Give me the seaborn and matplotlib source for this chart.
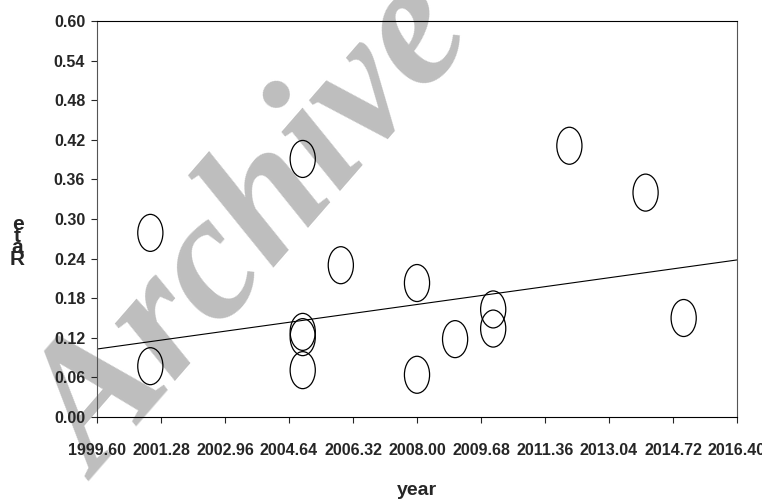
import numpy as np
import pandas as pd
import seaborn as sns
import matplotlib.pyplot as plt
from matplotlib.markers import MarkerStyle
from matplotlib.transforms import Affine2D

# data
year = [2001, 2001, 2005, 2005, 2005, 2005, 2006, 2008, 2008, 2009, 2010, 2010, 2012, 2014, 2015]
rate = [0.279, 0.077, 0.391, 0.129, 0.121, 0.071, 0.230, 0.203, 0.064, 0.118, 0.163, 0.134, 0.411, 0.340, 0.150]

# fitted line (end points)
fit_year = [1999.60, 2016.40]
fit_rate = [0.103, 0.238]

x_ticks = [1999.60, 2001.28, 2002.96, 2004.64, 2006.32, 2008.00, 2009.68, 2011.36, 2013.04, 2014.72, 2016.40]
y_ticks = [0.00, 0.06, 0.12, 0.18, 0.24, 0.30, 0.36, 0.42, 0.48, 0.54, 0.60]

sns.set_style("ticks")
plt.rcParams["font.family"] = ["Liberation Sans", "DejaVu Sans"]

df = pd.DataFrame({"year": year, "rate": rate})
fit = pd.DataFrame({"year": fit_year, "rate": fit_rate})

fig = plt.figure(figsize=(7.62, 4.99), dpi=100)
fig.patch.set_facecolor("white")
ax = fig.add_axes([0.1273, 0.1643, 0.8399, 0.7936])
ax.set_facecolor("none")

# watermark behind everything
fig.text(0.128, 0.036, "Archive of SID", rotation=49, rotation_mode="anchor",
         ha="left", va="baseline", fontsize=130, color="#bebebe",
         family=["Liberation Serif", "DejaVu Serif"], fontweight="bold",
         fontstyle="italic", zorder=-5)

sns.lineplot(data=fit, x="year", y="rate", ax=ax, color="black", linewidth=0.8)

ell = MarkerStyle("o", transform=Affine2D().scale(0.68, 1.0))
sns.scatterplot(data=df, x="year", y="rate", ax=ax, marker=ell, s=710,
                facecolor="none", edgecolor="black", linewidth=0.9, zorder=3)

ax.set_xlim(1999.60, 2016.40)
ax.set_ylim(0, 0.60)
ax.set_xticks(x_ticks)
ax.set_xticklabels([f"{v:.2f}" for v in x_ticks])
ax.set_yticks(y_ticks)
ax.set_yticklabels([f"{v:.2f}" for v in y_ticks])
ax.tick_params(axis="x", length=4.5, width=0.8, pad=14, labelsize=11.5)
ax.tick_params(axis="y", length=4.5, width=0.8, pad=4, labelsize=11.5)
for lab in ax.get_xticklabels() + ax.get_yticklabels():
    lab.set_fontweight("bold")

for side in ["top", "right", "bottom", "left"]:
    ax.spines[side].set_visible(True)
    ax.spines[side].set_color("black")
    ax.spines[side].set_linewidth(0.8)
ax.spines["left"].set_color("#555555")
ax.spines["right"].set_color("#555555")

ax.set_xlabel("")
ax.set_ylabel("")
fig.text(0.547, 0.034, "year", ha="center", va="top", fontsize=14, fontweight="bold")
fig.text(0.023, 0.515, "e\nt\na\nR", ha="center", va="center", fontsize=15,
         fontweight="bold", linespacing=0.5)

plt.savefig("out.png", dpi=100)
